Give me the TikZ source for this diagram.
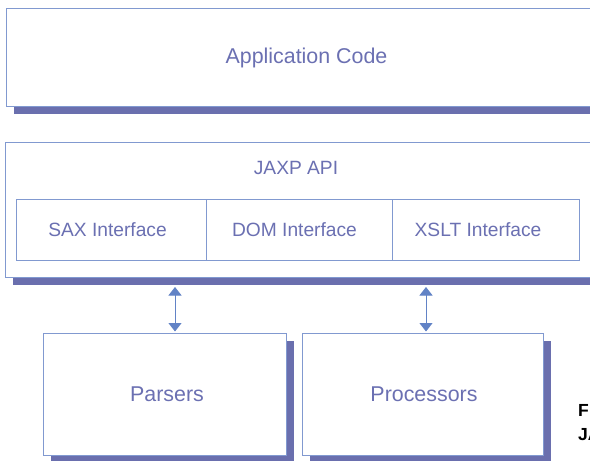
\documentclass[tikz,border=0pt]{standalone}
\usepackage{fontspec}
\setmainfont{Liberation Sans}
\usetikzlibrary{arrows.meta,shadows}
\definecolor{bordc}{HTML}{8199D0}
\definecolor{shadc}{HTML}{6A6FAE}
\definecolor{txtc}{HTML}{6B70B2}
\definecolor{arrc}{HTML}{6283C6}
\begin{document}
\begin{tikzpicture}[x=1pt,y=-1pt,
  box/.style={draw=bordc, line width=1pt, fill=white, rectangle, inner sep=0pt,
    anchor=north west, text=txtc,
    drop shadow={shadow xshift=7pt, shadow yshift=-7.5pt, fill=shadc, opacity=1}},
  cell/.style={draw=bordc, line width=1pt, fill=white, rectangle, inner sep=0pt,
    anchor=north west, text=txtc, minimum height=61pt, font=\fontsize{19.2}{22}\selectfont},
  big/.style={font=\fontsize{21.4}{24}\selectfont},
  lab/.style={text=txtc, inner sep=0pt, font=\fontsize{19.2}{22}\selectfont},
  captxt/.style={text=black, inner sep=0pt, anchor=west, font=\fontsize{17.5}{20}\selectfont\bfseries},
  arr/.style={draw=arrc, line width=1pt, {Triangle[width=13pt,length=8.5pt]}-{Triangle[width=13pt,length=8.5pt]}}
]
\useasboundingbox (0,0) rectangle (590,461);
\fill[white] (0,0) rectangle (590,461);

\node[box, big, minimum width=600pt, minimum height=98pt] (app) at (6,8) {Application Code};

\node[box, minimum width=640pt, minimum height=135pt] (jaxp) at (5,142) {};
\node[lab] (jaxplab) at (296,168) {JAXP API};
\node[cell, minimum width=190pt] (sax) at (16,199) {\hspace*{-8pt}SAX Interface};
\node[cell, minimum width=186pt] (dom) at (206,199) {\hspace*{-10pt}DOM Interface};
\node[cell, minimum width=187pt] (xslt) at (392,199) {\hspace*{-16pt}XSLT Interface};

\node[box, big, minimum width=243pt, minimum height=122pt] (parsers) at (43,333) {\hspace*{4pt}Parsers};
\node[box, big, minimum width=241pt, minimum height=122pt] (procs) at (302,333) {\hspace*{2pt}Processors};

\coordinate (a1) at (175,287);
\coordinate (a2) at (426,287);
\draw[arr, shorten >=1.5pt] (a1) -- (a1 |- parsers.north);
\draw[arr, shorten >=1.5pt] (a2) -- (a2 |- procs.north);

\node[captxt] (cap1) at (578,410) {F};
\node[captxt] (cap2) at (578,435) {JA};
\end{tikzpicture}
\end{document}
